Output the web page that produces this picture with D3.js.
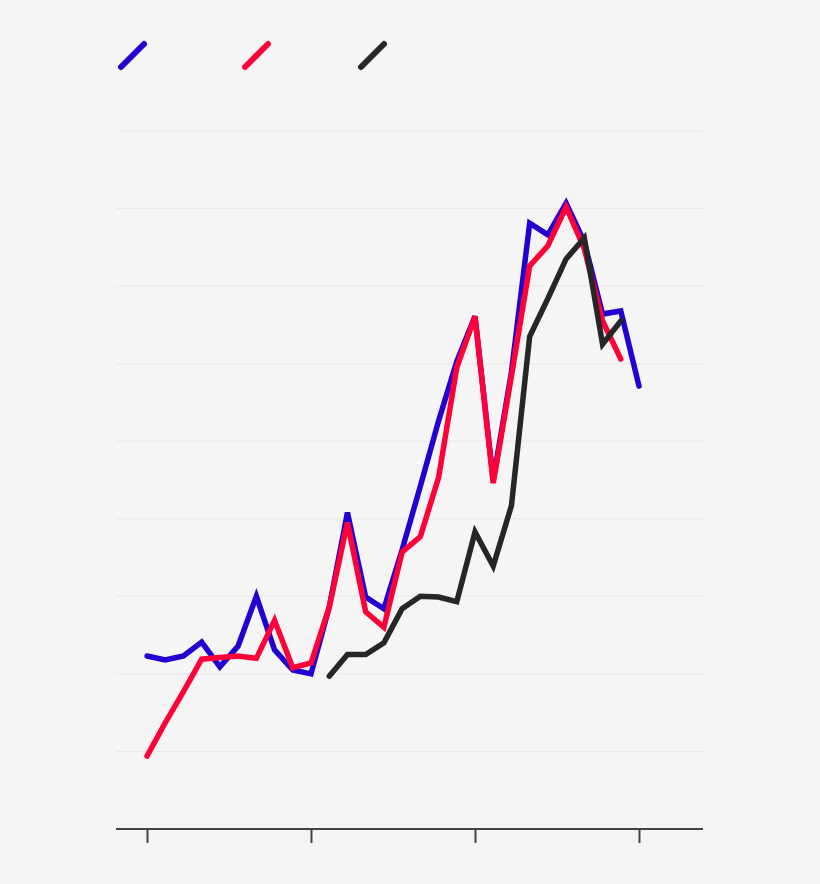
<!DOCTYPE html>
<html>
<head>
<meta charset="utf-8">
<script src="https://cdn.jsdelivr.net/npm/d3@7.9.0/dist/d3.min.js"></script>
<style>
  html, body { margin: 0; padding: 0; background: #f5f5f5; }
  svg { display: block; }
</style>
</head>
<body>
<svg id="chart" width="820" height="884"></svg>
<script>
// series values, one point per period (null = no data)
const blue = [22.3, 21.8, 22.3, 24.1, 20.9, 23.6, 30.0, 23.1, 20.5, 20.0,
  28.6, 40.8, 29.9, 28.4, 36.0, 44.2, 52.6, 60.3, 66.1, 45.0,
  58.9, 78.1, 76.6, 80.7, 75.7, 66.4, 66.8, 57.1];
const red = [9.4, 13.7, 17.7, 21.9, 22.1, 22.3, 22.0, 26.9, 20.8, 21.4,
  28.6, 39.5, 28.0, 26.0, 35.7, 37.7, 45.3, 59.5, 66.1, 44.6,
  58.4, 72.6, 75.2, 80.2, 74.8, 65.5, 60.6];
const black = [null, null, null, null, null, null, null, null, null, null,
  19.7, 22.5, 22.5, 24.0, 28.4, 30.0, 29.9, 29.3, 38.3, 33.9,
  41.7, 63.5, 68.4, 73.5, 76.2, 62.5, 65.5];
const xTicks = [0, 9, 18, 27];
const yGrid = [10, 20, 30, 40, 50, 60, 70, 80, 90];

const series = [
  { name: 'blue', values: blue, color: '#2200d2' },
  { name: 'red', values: red, color: '#ff0038' },
  { name: 'black', values: black, color: '#262626' }
];

const svg = d3.select('#chart');
const left = 116, right = 703;

const x = d3.scaleLinear().domain([0, 27]).range([147, 639]);
const y = d3.scaleLinear().domain([0, 90]).range([829, 131]);

// grid lines
svg.append('g')
  .selectAll('line')
  .data(yGrid)
  .join('line')
  .attr('x1', left).attr('x2', right)
  .attr('y1', d => y(d)).attr('y2', d => y(d))
  .attr('stroke', '#e8e8e8')
  .attr('stroke-width', 1);

// bottom axis
const xAxis = svg.append('g')
  .attr('transform', `translate(0,${y(0)})`)
  .call(d3.axisBottom(x).tickValues(xTicks).tickSize(14).tickFormat(''));
xAxis.select('.domain').remove();
xAxis.selectAll('.tick line').attr('stroke', '#444').attr('stroke-width', 2);
svg.append('line')
  .attr('x1', left).attr('x2', right)
  .attr('y1', y(0)).attr('y2', y(0))
  .attr('stroke', '#444').attr('stroke-width', 2);

const line = d3.line()
  .defined(d => d != null)
  .x((d, i) => x(i))
  .y(d => y(d));

series.forEach(s => {
  svg.append('path')
    .datum(s.values)
    .attr('d', line)
    .attr('fill', 'none')
    .attr('stroke', s.color)
    .attr('stroke-width', 5.5)
    .attr('stroke-linecap', 'round')
    .attr('stroke-linejoin', 'miter');
});

// legend marks
const legendX = [121, 245, 361];
svg.append('g')
  .selectAll('line')
  .data(series)
  .join('line')
  .attr('x1', (d, i) => legendX[i]).attr('y1', 67)
  .attr('x2', (d, i) => legendX[i] + 23).attr('y2', 44)
  .attr('stroke', d => d.color)
  .attr('stroke-width', 6)
  .attr('stroke-linecap', 'round');
</script>
</body>
</html>
